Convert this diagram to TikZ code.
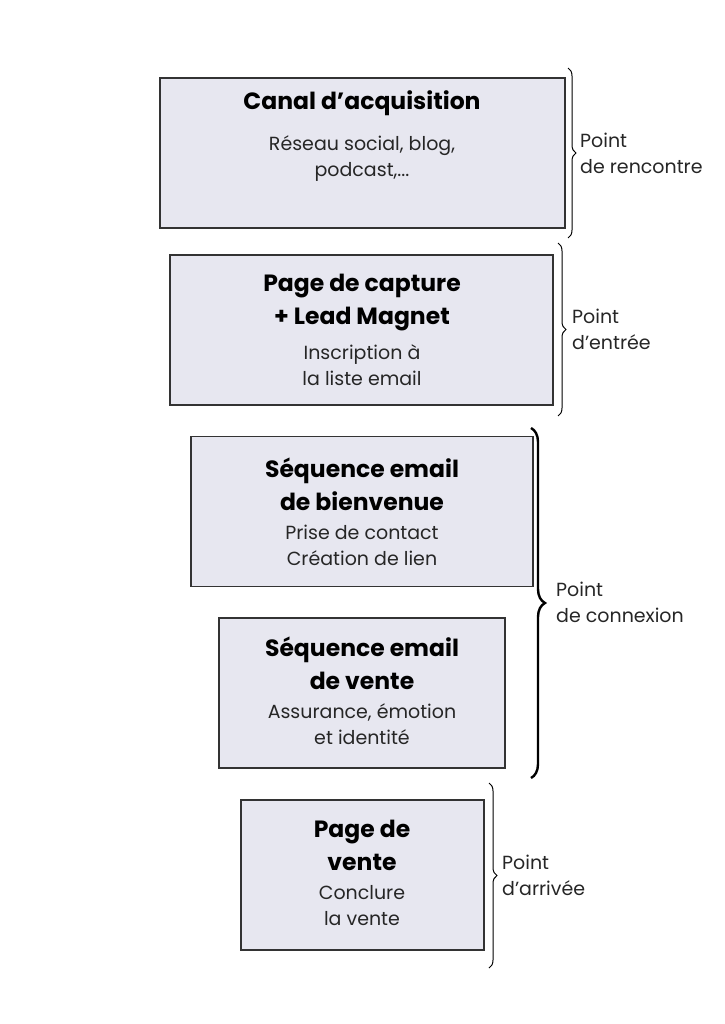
\documentclass[tikz,border=0pt]{standalone}
\usepackage{fontspec}
\setmainfont{Poppins}
\usepackage{tikz}
\usetikzlibrary{decorations.pathreplacing,positioning}
\definecolor{boxfill}{HTML}{E7E7F0}
\definecolor{boxline}{HTML}{333333}
\tikzset{stepbox/.style={draw=boxline,fill=boxfill,line width=1.5pt,minimum height=150pt,inner sep=0pt},
         titre/.style={font=\fontsize{23.5}{33}\selectfont\bfseries,align=center,inner sep=0pt},
         detail/.style={font=\fontsize{19}{26}\selectfont,align=center,inner sep=0pt,text=black!85},
         accolade/.style={decorate,decoration={brace,amplitude=#1},line width=1pt},
         etiquette/.style={font=\fontsize{19}{26}\selectfont,align=left,anchor=west,inner sep=0pt,text=black!85}}

\begin{document}
\begin{tikzpicture}[x=1pt,y=-1pt]
    \useasboundingbox (0,0) rectangle (724,1024);
    % etapes
    \node[stepbox,minimum width=405pt] (acq) at (362.5,153) {};
    \node[titre] (acq-t) at (362,103) {Canal d’acquisition};
    \node[detail] (acq-d) at (362,158.5) {Réseau social, blog,\\podcast,...};

    \node[stepbox,minimum width=383pt] (cap) at (361.5,330) {};
    \node[titre] (cap-t) at (362,302.5) {Page de capture\\+ Lead Magnet};
    \node[detail] (cap-d) at (362,365) {Inscription à\\la liste email};

    \node[stepbox,minimum width=342pt] (bien) at (362,511.5) {};
    \node[titre] (bien-t) at (362,484) {Séquence email\\de bienvenue};
    \node[detail] (bien-d) at (362,545) {Prise de contact\\Création de lien};

    \node[stepbox,minimum width=286pt] (seqv) at (362,693) {};
    \node[titre] (seqv-t) at (362,663) {Séquence email\\de vente};
    \node[detail] (seqv-d) at (362,724.5) {Assurance, émotion\\et identité};

    \node[stepbox,minimum width=243pt] (pv) at (362.5,875) {};
    \node[titre] (pv-t) at (362,845) {Page de\\vente};
    \node[detail] (pv-d) at (362,906) {Conclure\\la vente};

    % accolades
    \coordinate (b1h) at (568,68);  \coordinate (b1b) at (568,238);
    \coordinate (b2h) at (558,243); \coordinate (b2b) at (558,416);
    \coordinate (b3h) at (531,428); \coordinate (b3b) at (531,778);
    \coordinate (b4h) at (489,783); \coordinate (b4b) at (489,968);
    \draw[accolade=8pt] (b1h) -- (b1b);
    \draw[accolade=8pt] (b2h) -- (b2b);
    \draw[accolade=14pt,line width=2.4pt] (b3h) -- (b3b);
    \draw[accolade=8pt] (b4h) -- (b4b);

    \node[etiquette] (rencontre) at (580,153) {Point\\de rencontre};
    \node[etiquette] (entree) at (572,329) {Point\\d’entrée};
    \node[etiquette] (connexion) at (556,602) {Point\\de connexion};
    \node[etiquette] (arrivee) at (502,875) {Point\\d’arrivée};
\end{tikzpicture}
\end{document}
